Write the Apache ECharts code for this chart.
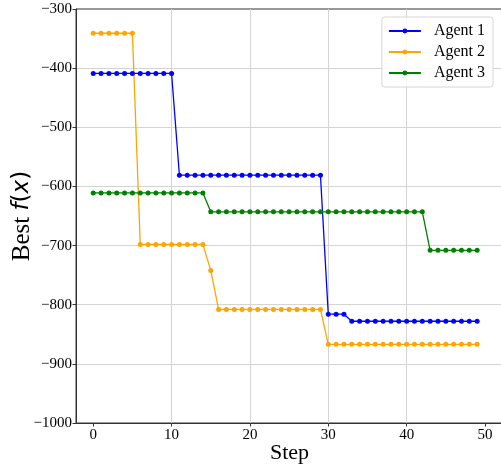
<!DOCTYPE html>
<html>
<head>
<meta charset="utf-8">
<script src="https://cdn.jsdelivr.net/npm/echarts@6/dist/echarts.min.js"></script>
<style>
  html, body { margin: 0; padding: 0; background: #fff; }
  #chart { width: 501px; height: 468px; }
</style>
</head>
<body>
<div id="chart"></div>
<script>
// Best objective value found so far by each agent, per step
const steps = Array.from({ length: 50 }, (_, i) => i);

const agent1 = [
  -409, -409, -409, -409, -409, -409, -409, -409, -409, -409, -409,
  -581, -581, -581, -581, -581, -581, -581, -581, -581, -581,
  -581, -581, -581, -581, -581, -581, -581, -581, -581,
  -816, -816, -816,
  -828, -828, -828, -828, -828, -828, -828, -828, -828, -828,
  -828, -828, -828, -828, -828, -828, -828
];

const agent2 = [
  -341, -341, -341, -341, -341, -341,
  -698, -698, -698, -698, -698, -698, -698, -698, -698,
  -742,
  -808, -808, -808, -808, -808, -808, -808, -808, -808, -808,
  -808, -808, -808, -808,
  -867, -867, -867, -867, -867, -867, -867, -867, -867, -867,
  -867, -867, -867, -867, -867, -867, -867, -867, -867, -867
];

const agent3 = [
  -611, -611, -611, -611, -611, -611, -611, -611, -611, -611,
  -611, -611, -611, -611, -611,
  -643, -643, -643, -643, -643, -643, -643, -643, -643, -643,
  -643, -643, -643, -643, -643, -643, -643, -643, -643, -643,
  -643, -643, -643, -643, -643, -643, -643, -643,
  -708, -708, -708, -708, -708, -708, -708
];

const agentNames = ['Agent 1', 'Agent 2', 'Agent 3'];
const agentColors = ['#0000ff', '#ffa500', '#008000'];
const xTicks = [0, 10, 20, 30, 40, 50];

const serif = '"Liberation Serif", "DejaVu Serif", serif';
const minus = v => String(v).replace('-', '\u2212');

const chart = echarts.init(document.getElementById('chart'), null, { renderer: 'canvas' });

const makeSeries = (name, values, color) => ({
  name: name,
  type: 'line',
  data: steps.map((s, i) => [s, values[i]]),
  symbol: 'circle',
  symbolSize: 5,
  showSymbol: true,
  lineStyle: { color: color, width: 1.3 },
  itemStyle: { color: color },
  emphasis: { disabled: true },
  animation: false
});

chart.setOption({
  animation: false,
  grid: {
    left: 76, right: -2, top: 9, bottom: 45,
    containLabel: false,
    outerBoundsMode: 'none',
    show: true, borderColor: '#333', borderWidth: 1, backgroundColor: 'transparent'
  },
  legend: {
    data: agentNames,
    orient: 'vertical',
    right: 8,
    top: 17,
    itemWidth: 32,
    itemHeight: 6,
    itemGap: 5,
    padding: [6, 8, 6, 6],
    backgroundColor: 'rgba(255,255,255,0.85)',
    borderColor: '#d6d6d6',
    borderWidth: 1,
    borderRadius: 3,
    textStyle: { fontFamily: serif, fontSize: 16, color: '#000', padding: [0, 0, 0, 8], lineHeight: 16 }
  },
  xAxis: {
    type: 'value',
    min: -2.2,
    max: 52.3,
    name: 'Step',
    nameLocation: 'middle',
    nameGap: 19,
    nameMoveOverlap: false,
    nameTextStyle: { fontFamily: serif, fontSize: 22, color: '#000', verticalAlign: 'top' },
    axisLine: { show: true, onZero: false, lineStyle: { color: '#333', width: 1 } },
    axisTick: { show: true, inside: false, length: 3.5, lineStyle: { color: '#333' }, customValues: xTicks },
    axisLabel: { fontFamily: serif, fontSize: 15, color: '#000', margin: 5, customValues: xTicks },
    splitLine: { show: true, lineStyle: { color: '#d4d4d4', width: 1 }, customValues: xTicks, showMinLine: false, showMaxLine: false }
  },
  yAxis: {
    type: 'value',
    min: -1000,
    max: -300,
    interval: 100,
    name: '{b|Best }{i|f}{p|(}{i|x}{p|)}',
    nameLocation: 'middle',
    nameRotate: 90,
    nameGap: 41,
    nameMoveOverlap: false,
    nameTextStyle: {
      rich: {
        b: { fontFamily: serif, fontSize: 25, color: '#000' },
        i: { fontFamily: '"DejaVu Sans"', fontStyle: 'italic', fontSize: 23, color: '#000' },
        p: { fontFamily: '"DejaVu Sans"', fontSize: 23, color: '#000' }
      }
    },
    axisLine: { show: true, onZero: false, lineStyle: { color: '#333', width: 1 } },
    axisTick: { show: true, inside: false, length: 3.5, lineStyle: { color: '#333' } },
    axisLabel: { fontFamily: serif, fontSize: 15, color: '#000', margin: 4, formatter: minus },
    splitLine: { show: true, lineStyle: { color: '#d4d4d4', width: 1 }, showMinLine: false, showMaxLine: false }
  },
  series: [
    makeSeries(agentNames[0], agent1, agentColors[0]),
    makeSeries(agentNames[1], agent2, agentColors[1]),
    makeSeries(agentNames[2], agent3, agentColors[2])
  ]
});
</script>
</body>
</html>
